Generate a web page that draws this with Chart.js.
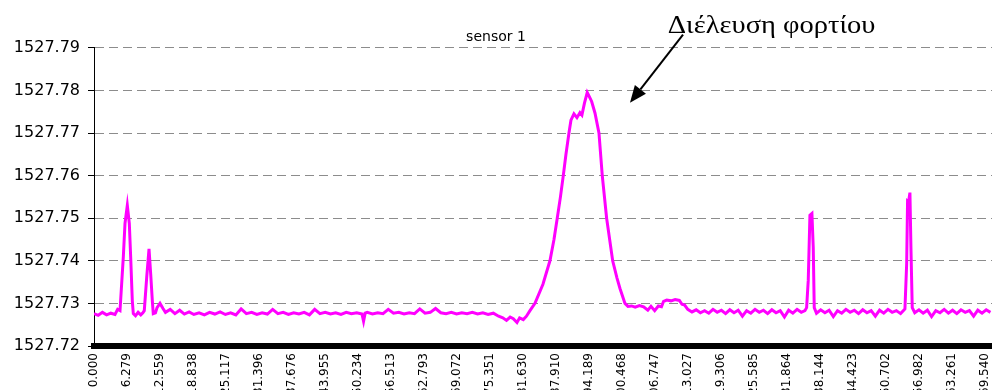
<!DOCTYPE html>
<html>
<head>
<meta charset="utf-8">
<title>sensor 1</title>
<script src="https://cdn.jsdelivr.net/npm/chart.js@4.4.1/dist/chart.umd.min.js"></script>
<style>
  html, body { margin: 0; padding: 0; background: #fff; }
  #wrap { width: 992px; height: 390px; }
</style>
</head>
<body>
<div id="wrap"><canvas id="sensorChart" width="992" height="390"></canvas></div>
<script>
// time axis (same units as the tick labels)
const elapsed = [
  0, 0.8, 1.6, 2.4, 3.2, 4.0, 4.5,
  4.95, 5.58, 5.90, 6.34, 6.72, 6.98, 7.29, 7.48,
  7.9, 8.4, 8.9, 9.3,
  9.57, 10.03, 10.47, 10.79, 11.10, 11.28,
  11.7, 12.0, 12.56, 13.13,
  13.6, 14.5, 15.4, 16.3, 17.2, 18.1, 19.0, 20, 21, 22, 23, 24, 25, 26, 27, 28, 29, 30,
  31, 32, 33, 34, 35, 36, 37, 38, 39, 40, 41, 42, 43, 44, 45, 46, 47, 48, 49, 50,
  51, 51.3, 51.6, 52, 53, 54, 55, 56, 57, 58, 59, 60, 61, 62, 63, 64, 65, 66, 67, 68,
  69, 70, 71, 72, 73, 74, 75, 76,
  77.0, 77.8, 78.5, 79.2, 79.8, 80.5, 81.0, 81.7, 82.3,
  82.97, 83.92, 85.44, 86.77, 87.54, 88.16, 88.77, 89.31, 89.82, 90.39,
  90.77, 91.34, 91.91, 92.48, 92.86, 93.34, 93.87, 94.29, 94.71, 95.34,
  96.10, 96.73, 97.56, 98.71, 99.52, 100.10, 101.05, 101.62,
  102.3, 103.0, 103.8, 104.6, 105.4, 106.0, 106.7, 107.4, 108.0,
  108.4, 109.0, 109.8, 110.6, 111.4, 111.9, 112.4, 113.0,
  113.8, 114.6, 115.4, 116.2, 117.0, 117.8, 118.6, 119.4, 120.2, 121.0, 121.8, 122.6, 123.4, 124.2,
  125.0, 125.8, 126.6, 127.4, 128.2, 129.0, 129.8, 130.6, 131.4, 132.2, 133.0, 133.8, 134.6, 135.3,
  135.62, 135.93, 136.25, 136.63, 136.88, 137.07,
  137.5, 138.3, 139.1, 139.9, 140.7, 141.5, 142.3, 143.1, 143.9, 144.7, 145.5,
  146.3, 147.1, 147.9, 148.7, 149.5, 150.3, 151.1, 151.9, 152.7, 153.5, 154.1,
  154.33, 154.66, 154.83, 155.02, 155.28, 155.47, 155.72,
  156.2, 157.0, 157.8, 158.6, 159.4, 160.2, 161.0, 161.8, 162.6, 163.4,
  164.2, 165.0, 165.8, 166.6, 167.4, 168.2, 169.0, 169.8, 170.6
];

// sensor 1 wavelength
const wavelength = [
  1527.7276, 1527.7272, 1527.7279, 1527.7273, 1527.7277, 1527.7274, 1527.7286,
  1527.7283, 1527.7409, 1527.7488, 1527.7530, 1527.7488, 1527.7409, 1527.7306, 1527.7276,
  1527.7271, 1527.7279, 1527.7273, 1527.7278,
  1527.7283, 1527.7361, 1527.7428, 1527.7369, 1527.7306, 1527.7276,
  1527.7278, 1527.7290, 1527.7300, 1527.7288,
  1527.7279, 1527.7286, 1527.7276, 1527.7284, 1527.7275, 1527.7280, 1527.7274, 1527.7278, 1527.7273, 1527.7279, 1527.7275, 1527.7280, 1527.7274, 1527.7278, 1527.7273, 1527.7287, 1527.7276, 1527.7279,
  1527.7274, 1527.7278, 1527.7275, 1527.7286, 1527.7276, 1527.7279, 1527.7274, 1527.7278, 1527.7275, 1527.7279, 1527.7273, 1527.7286, 1527.7276, 1527.7279, 1527.7275, 1527.7278, 1527.7274, 1527.7279, 1527.7276, 1527.7278,
  1527.7275, 1527.7258, 1527.7277, 1527.7279, 1527.7275, 1527.7278, 1527.7276, 1527.7286, 1527.7277, 1527.7279, 1527.7275, 1527.7278, 1527.7276, 1527.7287, 1527.7277, 1527.7279, 1527.7288, 1527.7278, 1527.7276, 1527.7279,
  1527.7275, 1527.7278, 1527.7276, 1527.7279, 1527.7275, 1527.7278, 1527.7274, 1527.7277,
  1527.7270, 1527.7266, 1527.7260, 1527.7268, 1527.7264, 1527.7255, 1527.7266, 1527.7262, 1527.7270,
  1527.7283, 1527.7300, 1527.7345, 1527.7400, 1527.7450, 1527.7500, 1527.7550, 1527.7600, 1527.7650, 1527.7700,
  1527.7730, 1527.7745, 1527.7736, 1527.7748, 1527.7742, 1527.7770, 1527.7795, 1527.7785, 1527.7774, 1527.7747,
  1527.7700, 1527.7600, 1527.7500, 1527.7400, 1527.7360, 1527.7335, 1527.7300, 1527.7293,
  1527.7294, 1527.7291, 1527.7295, 1527.7292, 1527.7284, 1527.7293, 1527.7283, 1527.7294, 1527.7292,
  1527.7305, 1527.7308, 1527.7306, 1527.7309, 1527.7307, 1527.7298, 1527.7296, 1527.7286,
  1527.7280, 1527.7285, 1527.7278, 1527.7283, 1527.7277, 1527.7286, 1527.7279, 1527.7284, 1527.7276, 1527.7285, 1527.7278, 1527.7284, 1527.7270, 1527.7283,
  1527.7277, 1527.7286, 1527.7279, 1527.7284, 1527.7276, 1527.7285, 1527.7278, 1527.7283, 1527.7268, 1527.7284, 1527.7277, 1527.7286, 1527.7279, 1527.7283,
  1527.7290, 1527.7354, 1527.7507, 1527.7511, 1527.7432, 1527.7290,
  1527.7277, 1527.7285, 1527.7278, 1527.7284, 1527.7269, 1527.7283, 1527.7277, 1527.7286, 1527.7279, 1527.7284, 1527.7276,
  1527.7285, 1527.7278, 1527.7283, 1527.7270, 1527.7284, 1527.7277, 1527.7286, 1527.7279, 1527.7283, 1527.7276, 1527.7284,
  1527.7287, 1527.7393, 1527.7540, 1527.7538, 1527.7560, 1527.7432, 1527.7290,
  1527.7278, 1527.7285, 1527.7277, 1527.7284, 1527.7269, 1527.7283, 1527.7278, 1527.7286, 1527.7277, 1527.7284,
  1527.7276, 1527.7285, 1527.7279, 1527.7283, 1527.7270, 1527.7284, 1527.7277, 1527.7285, 1527.7279
];

const xTicks = [0, 6.279, 12.559, 18.838, 25.117, 31.396, 37.676, 43.955, 50.234, 56.513,
  62.793, 69.072, 75.351, 81.630, 87.910, 94.189, 100.468, 106.747, 113.027, 119.306,
  125.585, 131.864, 138.144, 144.423, 150.702, 156.982, 163.261, 169.540];
const yTicks = [1527.72, 1527.73, 1527.74, 1527.75, 1527.76, 1527.77, 1527.78, 1527.79];

const noteText = 'Διέλευση φορτίου';

// text + arrow pointing at the main peak, placed in data units
const loadNote = {
  id: 'loadNote',
  afterDraw(chart) {
    const ctx = chart.ctx;
    const sx = chart.scales.x, sy = chart.scales.y;
    const tx = sx.getPixelForValue(109.2), ty = sy.getPixelForValue(1527.7935);
    ctx.save();
    ctx.fillStyle = '#000';
    ctx.font = '25px "Liberation Serif", "Times New Roman", serif';
    ctx.textBaseline = 'alphabetic';
    ctx.translate(tx, ty);
    ctx.scale(1.14, 1);
    ctx.fillText(noteText, 0, 0);
    ctx.restore();

    const x1 = sx.getPixelForValue(112.1), y1 = sy.getPixelForValue(1527.7931);
    const x2 = sx.getPixelForValue(102.0), y2 = sy.getPixelForValue(1527.7771);
    const ang = Math.atan2(y2 - y1, x2 - x1);
    const headLen = 17, headW = 7;
    const bx = x2 - headLen * Math.cos(ang), by = y2 - headLen * Math.sin(ang);
    ctx.save();
    ctx.strokeStyle = '#000';
    ctx.fillStyle = '#000';
    ctx.lineWidth = 2;
    ctx.beginPath();
    ctx.moveTo(x1, y1);
    ctx.lineTo(bx, by);
    ctx.stroke();
    ctx.beginPath();
    ctx.moveTo(x2, y2);
    ctx.lineTo(bx + headW * Math.sin(ang), by - headW * Math.cos(ang));
    ctx.lineTo(bx - headW * Math.sin(ang), by + headW * Math.cos(ang));
    ctx.closePath();
    ctx.fill();
    ctx.restore();
  }
};

const ctx = document.getElementById('sensorChart').getContext('2d');
const sensorChart = new Chart(ctx, {
  type: 'line',
  data: {
    datasets: [{
      label: 'sensor 1',
      data: elapsed.map((t, i) => ({ x: t, y: wavelength[i] })),
      borderColor: '#ff00ff',
      backgroundColor: '#ff00ff',
      borderWidth: 3,
      pointRadius: 0,
      tension: 0,
      fill: false
    }]
  },
  options: {
    responsive: false,
    animation: false,
    layout: { padding: 0 },
    plugins: {
      legend: { display: false },
      tooltip: { enabled: false },
      title: {
        display: true,
        text: 'sensor 1',
        color: '#000',
        font: { family: 'DejaVu Sans', size: 14, weight: 'normal' },
        padding: { top: 29, bottom: 2 }
      }
    },
    scales: {
      x: {
        type: 'linear',
        min: 0,
        max: 170.9,
        afterBuildTicks: scale => { scale.ticks = xTicks.map(v => ({ value: v })); },
        afterFit: scale => {
          scale.height = 44;
          scale.paddingLeft = 0;
          scale.paddingRight = 0;
        },
        grid: { display: false, drawTicks: false },
        border: { color: '#000', width: 6 },
        ticks: {
          autoSkip: false,
          minRotation: 90,
          maxRotation: 90,
          padding: 7,
          color: '#000',
          font: { family: 'DejaVu Sans', size: 12 },
          callback: v => v.toFixed(3)
        }
      },
      y: {
        type: 'linear',
        min: 1527.72,
        max: 1527.79,
        afterBuildTicks: scale => { scale.ticks = yTicks.map(v => ({ value: v })); },
        afterFit: scale => { scale.width = 94; },
        grid: { color: '#8c8c8c', lineWidth: 1, tickLength: 6, tickColor: '#000' },
        border: { color: '#000', width: 1, dash: [9, 5] },
        ticks: {
          padding: 8,
          color: '#000',
          font: { family: 'DejaVu Sans', size: 16 },
          callback: v => v.toFixed(2)
        }
      }
    }
  },
  plugins: [loadNote]
});
</script>
</body>
</html>
